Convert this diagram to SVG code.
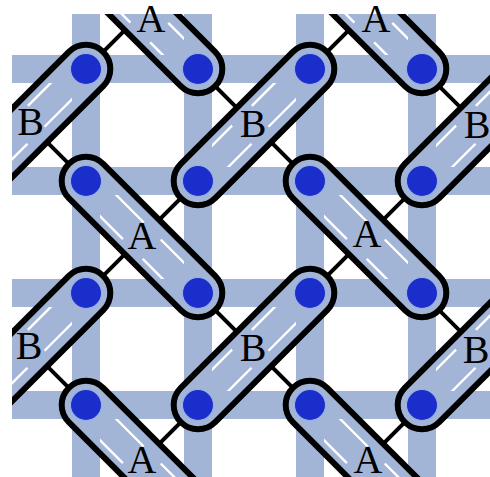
<svg xmlns="http://www.w3.org/2000/svg" width="490" height="477" viewBox="0 0 490 477">
<style>
.band{fill:#a3b5d7}
.conn{stroke:#000;stroke-width:4;fill:none}
.cf{fill:#a3b5d7}
.co{fill:none;stroke:#000;stroke-width:6}
.sl{stroke:#fff;stroke-width:2.4}
.dot{fill:#1a2ecc;stroke:#9fb2e6;stroke-width:1}
.lbl{font-family:"Liberation Serif","Times New Roman",serif;font-size:40px;text-anchor:middle;fill:#000}
</style>
<defs>
<clipPath id="view"><rect x="12" y="14" width="478" height="463"/></clipPath>
<mask id="cells" maskUnits="userSpaceOnUse" x="0" y="0" width="490" height="477">
<rect x="0" y="0" width="490" height="477" fill="#fff"/>
<g fill="#000">
<rect x="72" y="0" width="28" height="477"/><rect x="184" y="0" width="28" height="477"/><rect x="296" y="0" width="28" height="477"/><rect x="408" y="0" width="28" height="477"/>
<rect x="0" y="55" width="490" height="28"/><rect x="0" y="167" width="490" height="28"/><rect x="0" y="279" width="490" height="28"/><rect x="0" y="391" width="490" height="28"/>
</g>
</mask>
<rect id="cap" x="-103.5" y="-24.3" width="207" height="48.6" rx="24.3"/>
<g id="sl"><line x1="-79.2" y1="-11.5" x2="-9" y2="-11.5"/><line x1="15" y1="-11.5" x2="79.2" y2="-11.5"/><line x1="-79.2" y1="15" x2="-12" y2="15"/><line x1="16" y1="15" x2="79.2" y2="15"/></g>
<g id="slT"><line x1="-79.2" y1="-11.5" x2="1.6" y2="-11.5"/><line x1="25.6" y1="-11.5" x2="79.2" y2="-11.5"/><line x1="-79.2" y1="15" x2="-1.4" y2="15"/><line x1="26.6" y1="15" x2="79.2" y2="15"/></g>
<g id="dd"><circle cx="-79.2" cy="0" r="15.5"/><circle cx="79.2" cy="0" r="15.5"/></g>
</defs>
<g clip-path="url(#view)">
<g id="bands" class="band">
<rect x="72" y="14" width="28" height="463"/><rect x="184" y="14" width="28" height="463"/><rect x="296" y="14" width="28" height="463"/><rect x="408" y="14" width="28" height="463"/>
<rect x="12" y="55" width="478" height="28"/><rect x="12" y="167" width="478" height="28"/><rect x="12" y="279" width="478" height="28"/><rect x="12" y="391" width="478" height="28"/>
</g>
<g id="connectors" class="conn">
<line x1="-20" y1="175" x2="510" y2="-355"/>
<line x1="-20" y1="399" x2="510" y2="-131"/>
<line x1="-20" y1="623" x2="510" y2="93"/>
<line x1="-20" y1="847" x2="510" y2="317"/>
<line x1="-20" y1="299" x2="510" y2="829"/>
<line x1="-20" y1="75" x2="510" y2="605"/>
<line x1="-20" y1="-149" x2="510" y2="381"/>
<line x1="-20" y1="-373" x2="510" y2="157"/>
</g>
<g id="capA1"><use href="#cap" class="cf" transform="translate(142,13) rotate(45)"/><g mask="url(#cells)"><use href="#slT" class="sl" transform="translate(142,13) rotate(45)"/></g><use href="#cap" class="co" transform="translate(142,13) rotate(45)"/><use href="#dd" class="dot" transform="translate(142,13) rotate(45)"/></g>
<g id="capA2"><use href="#cap" class="cf" transform="translate(366,13) rotate(45)"/><g mask="url(#cells)"><use href="#slT" class="sl" transform="translate(366,13) rotate(45)"/></g><use href="#cap" class="co" transform="translate(366,13) rotate(45)"/><use href="#dd" class="dot" transform="translate(366,13) rotate(45)"/></g>
<g id="capA3"><use href="#cap" class="cf" transform="translate(142,237) rotate(45)"/><g mask="url(#cells)"><use href="#sl" class="sl" transform="translate(142,237) rotate(45)"/></g><use href="#cap" class="co" transform="translate(142,237) rotate(45)"/><use href="#dd" class="dot" transform="translate(142,237) rotate(45)"/></g>
<g id="capA4"><use href="#cap" class="cf" transform="translate(366,237) rotate(45)"/><g mask="url(#cells)"><use href="#sl" class="sl" transform="translate(366,237) rotate(45)"/></g><use href="#cap" class="co" transform="translate(366,237) rotate(45)"/><use href="#dd" class="dot" transform="translate(366,237) rotate(45)"/></g>
<g id="capA5"><use href="#cap" class="cf" transform="translate(142,461) rotate(45)"/><g mask="url(#cells)"><use href="#sl" class="sl" transform="translate(142,461) rotate(45)"/></g><use href="#cap" class="co" transform="translate(142,461) rotate(45)"/><use href="#dd" class="dot" transform="translate(142,461) rotate(45)"/></g>
<g id="capA6"><use href="#cap" class="cf" transform="translate(366,461) rotate(45)"/><g mask="url(#cells)"><use href="#sl" class="sl" transform="translate(366,461) rotate(45)"/></g><use href="#cap" class="co" transform="translate(366,461) rotate(45)"/><use href="#dd" class="dot" transform="translate(366,461) rotate(45)"/></g>
<g id="capB1"><use href="#cap" class="cf" transform="translate(30,125) rotate(135)"/><g mask="url(#cells)"><use href="#sl" class="sl" transform="translate(30,125) rotate(135)"/></g><use href="#cap" class="co" transform="translate(30,125) rotate(135)"/><use href="#dd" class="dot" transform="translate(30,125) rotate(135)"/></g>
<g id="capB2"><use href="#cap" class="cf" transform="translate(254,125) rotate(135)"/><g mask="url(#cells)"><use href="#sl" class="sl" transform="translate(254,125) rotate(135)"/></g><use href="#cap" class="co" transform="translate(254,125) rotate(135)"/><use href="#dd" class="dot" transform="translate(254,125) rotate(135)"/></g>
<g id="capB3"><use href="#cap" class="cf" transform="translate(478,125) rotate(135)"/><g mask="url(#cells)"><use href="#sl" class="sl" transform="translate(478,125) rotate(135)"/></g><use href="#cap" class="co" transform="translate(478,125) rotate(135)"/><use href="#dd" class="dot" transform="translate(478,125) rotate(135)"/></g>
<g id="capB4"><use href="#cap" class="cf" transform="translate(30,349) rotate(135)"/><g mask="url(#cells)"><use href="#sl" class="sl" transform="translate(30,349) rotate(135)"/></g><use href="#cap" class="co" transform="translate(30,349) rotate(135)"/><use href="#dd" class="dot" transform="translate(30,349) rotate(135)"/></g>
<g id="capB5"><use href="#cap" class="cf" transform="translate(254,349) rotate(135)"/><g mask="url(#cells)"><use href="#sl" class="sl" transform="translate(254,349) rotate(135)"/></g><use href="#cap" class="co" transform="translate(254,349) rotate(135)"/><use href="#dd" class="dot" transform="translate(254,349) rotate(135)"/></g>
<g id="capB6"><use href="#cap" class="cf" transform="translate(478,349) rotate(135)"/><g mask="url(#cells)"><use href="#sl" class="sl" transform="translate(478,349) rotate(135)"/></g><use href="#cap" class="co" transform="translate(478,349) rotate(135)"/><use href="#dd" class="dot" transform="translate(478,349) rotate(135)"/></g>
</g>
<g id="labels" class="lbl">
<text x="151" y="32">A</text><text x="376" y="32">A</text>
<text x="142" y="249">A</text><text x="367" y="247">A</text>
<text x="142" y="473">A</text><text x="368" y="473">A</text>
<text x="30.5" y="135">B</text><text x="253" y="137">B</text><text x="477" y="138">B</text>
<text x="29" y="359">B</text><text x="253" y="361">B</text><text x="476" y="363">B</text>
</g>
</svg>
